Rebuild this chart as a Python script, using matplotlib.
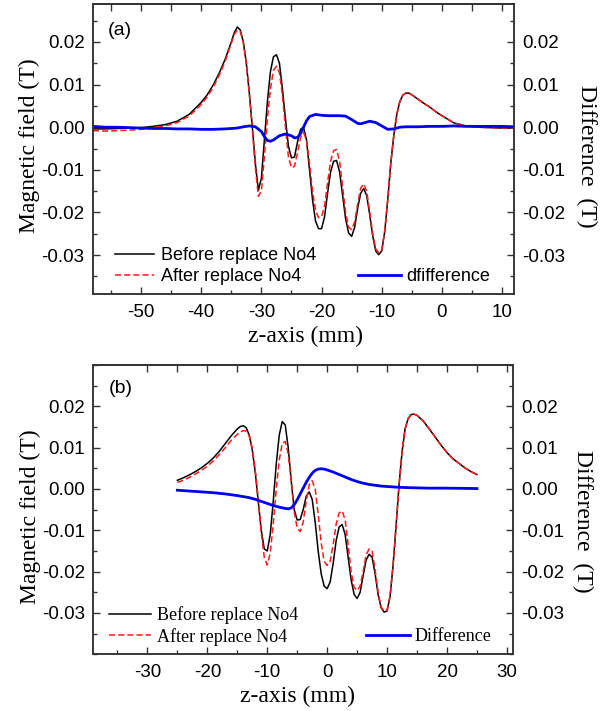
import matplotlib
matplotlib.use("Agg")
import matplotlib.pyplot as plt
from matplotlib.ticker import MultipleLocator, FixedLocator, FormatStrFormatter

plt.rcParams['axes.unicode_minus'] = False
plt.rcParams['font.family'] = ['Liberation Sans', 'DejaVu Sans']

# ---- panel (a) data ----
za = [-58, -56, -54, -52, -50, -48, -46, -44, -42, -40, -39, -38, -37, -36, -35.5, -35,
      -34.5, -34, -33.5, -33, -32.5, -32, -31.5, -31, -30.5, -30, -29.5, -29, -28.5, -28,
      -27.5, -27, -26.5, -26, -25.5, -25, -24.5, -24, -23.5, -23, -22.5, -22, -21.5, -21,
      -20.5, -20, -19.5, -19, -18.5, -18, -17.5, -17, -16.5, -16, -15.5, -15, -14.5, -14,
      -13.5, -13, -12.5, -12, -11.5, -11, -10.5, -10, -9.5, -9, -8.5, -8, -7.5, -7, -6.5,
      -6, -5.5, -5, -4, -3, -2, -1, 0, 2, 4, 6, 8, 10, 12]
before_a = [-0.0004, -0.0004, -0.0003, -0.0002, -0.0001, 0.0002, 0.0006, 0.0014, 0.0030, 0.0058,
            0.0076, 0.0099, 0.0127, 0.0160, 0.0180, 0.0200, 0.0222, 0.0235, 0.0228, 0.0200,
            0.0150, 0.0080, 0.0000, -0.0085, -0.0148, -0.0120, -0.0030, 0.0060, 0.0130, 0.0165,
            0.0170, 0.0150, 0.0090, 0.0020, -0.0045, -0.0072, -0.0070, -0.0035, -0.0005, 0.0000,
            -0.0030, -0.0100, -0.0170, -0.0220, -0.0238, -0.0238, -0.0210, -0.0155, -0.0105, -0.0080,
            -0.0078, -0.0105, -0.0160, -0.0215, -0.0248, -0.0256, -0.0235, -0.0190, -0.0155, -0.0144,
            -0.0160, -0.0205, -0.0255, -0.0290, -0.0299, -0.0290, -0.0245, -0.0170, -0.0085, -0.0020,
            0.0030, 0.0060, 0.0075, 0.0080, 0.0080, 0.0076, 0.0066, 0.0056, 0.0047, 0.0036,
            0.0027, 0.0010, 0.0003, 0.0000, -0.0001, -0.0002, -0.0002]
after_a = [-0.0008, -0.0009, -0.0008, -0.0007, -0.0005, -0.0002, 0.0003, 0.0011, 0.0026, 0.0053,
           0.0071, 0.0094, 0.0122, 0.0155, 0.0176, 0.0197, 0.0218, 0.0228, 0.0224, 0.0198,
           0.0150, 0.0078, -0.0005, -0.0095, -0.0162, -0.0150, -0.0070, 0.0020, 0.0090, 0.0133,
           0.0143, 0.0128, 0.0075, 0.0000, -0.0070, -0.0095, -0.0092, -0.0060, -0.0025, -0.0012,
           -0.0030, -0.0085, -0.0150, -0.0195, -0.0212, -0.0210, -0.0185, -0.0130, -0.0080, -0.0055,
           -0.0052, -0.0080, -0.0140, -0.0200, -0.0235, -0.0240, -0.0222, -0.0180, -0.0143, -0.0133,
           -0.0150, -0.0198, -0.0250, -0.0285, -0.0295, -0.0288, -0.0243, -0.0170, -0.0085, -0.0020,
           0.0030, 0.0060, 0.0075, 0.0080, 0.0080, 0.0076, 0.0066, 0.0056, 0.0047, 0.0036,
           0.0027, 0.0010, 0.0003, 0.0000, -0.0001, -0.0002, -0.0002]
zda = [-58, -56, -54, -52, -50, -48, -46, -44, -42, -40, -38, -36, -34, -33, -32, -31, -30,
       -29.5, -29, -28.5, -28, -27, -26, -25, -24.5, -24, -23.5, -23, -22.5, -22, -21, -20,
       -19, -18, -17, -16, -15, -14, -13.5, -13, -12, -11, -10, -9, -8, -7, -6, -4, -2, 0,
       2, 4, 6, 8, 10, 12]
diff_a = [0.0002, 0.0000, 0.0000, -0.0001, -0.0002, -0.0003, -0.0003, -0.0004, -0.0004, -0.0005,
          -0.0005, -0.0004, -0.0002, 0.0001, 0.0003, 0.0001, -0.0010, -0.0022, -0.0031, -0.0033,
          -0.0030, -0.0020, -0.0016, -0.0020, -0.0025, -0.0024, -0.0015, 0.0000, 0.0015, 0.0025,
          0.0030, 0.0028, 0.0027, 0.0027, 0.0027, 0.0026, 0.0018, 0.0009, 0.0008, 0.0010,
          0.0014, 0.0011, 0.0003, -0.0005, -0.0004, 0.0000, 0.0001, 0.0001, 0.0002, 0.0002,
          0.0003, 0.0002, 0.0002, 0.0002, 0.0002, 0.0001]

# ---- panel (b) data ----
zb = [-25, -24, -23, -22, -21, -20, -19, -18, -17, -16, -15, -14.5, -14, -13.5, -13, -12.5,
      -12, -11.5, -11, -10.5, -10, -9.5, -9, -8.5, -8, -7.5, -7, -6.5, -6, -5.5, -5, -4.5,
      -4, -3.5, -3, -2.5, -2, -1.5, -1, -0.5, 0, 0.5, 1, 1.5, 2, 2.5, 3, 3.5, 4, 4.5, 5,
      5.5, 6, 6.5, 7, 7.5, 8, 8.5, 9, 9.5, 10, 10.5, 11, 11.5, 12, 12.5, 13, 13.5, 14,
      14.5, 15, 16, 17, 18, 19, 20, 21, 22, 23, 24, 25]
before_b = [0.0021, 0.0027, 0.0034, 0.0042, 0.0051, 0.0062, 0.0075, 0.0091, 0.0110, 0.0129,
            0.0145, 0.0151, 0.0153, 0.0148, 0.0130, 0.0095, 0.0040, -0.0030, -0.0100, -0.0145,
            -0.0150, -0.0110, -0.0030, 0.0060, 0.0130, 0.0163, 0.0155, 0.0100, 0.0020, -0.0050,
            -0.0075, -0.0074, -0.0050, -0.0018, -0.0007, -0.0025, -0.0080, -0.0150, -0.0205, -0.0235,
            -0.0241, -0.0225, -0.0180, -0.0125, -0.0092, -0.0086, -0.0110, -0.0165, -0.0220, -0.0255,
            -0.0265, -0.0250, -0.0210, -0.0172, -0.0158, -0.0165, -0.0205, -0.0255, -0.0287, -0.0298,
            -0.0295, -0.0260, -0.0185, -0.0090, 0.0010, 0.0090, 0.0145, 0.0170, 0.0180, 0.0181,
            0.0178, 0.0165, 0.0146, 0.0126, 0.0106, 0.0088, 0.0073, 0.0062, 0.0051, 0.0042, 0.0035]
after_b = [0.0016, 0.0021, 0.0028, 0.0036, 0.0045, 0.0055, 0.0068, 0.0083, 0.0100, 0.0118,
           0.0132, 0.0138, 0.0141, 0.0140, 0.0128, 0.0098, 0.0045, -0.0025, -0.0105, -0.0165,
           -0.0184, -0.0155, -0.0085, 0.0000, 0.0070, 0.0110, 0.0115, 0.0085, 0.0020, -0.0055,
           -0.0095, -0.0103, -0.0080, -0.0030, 0.0010, 0.0020, 0.0000, -0.0060, -0.0130, -0.0175,
           -0.0185, -0.0175, -0.0135, -0.0085, -0.0058, -0.0053, -0.0075, -0.0135, -0.0200, -0.0238,
           -0.0246, -0.0235, -0.0200, -0.0160, -0.0145, -0.0150, -0.0195, -0.0250, -0.0285, -0.0296,
           -0.0293, -0.0258, -0.0183, -0.0090, 0.0010, 0.0090, 0.0145, 0.0170, 0.0180, 0.0181,
           0.0178, 0.0165, 0.0146, 0.0126, 0.0106, 0.0088, 0.0073, 0.0062, 0.0051, 0.0042, 0.0035]
zdb = [-25, -23, -21, -19, -17, -15, -13, -12, -11, -10, -9, -8, -7, -6.5, -6, -5.5, -5, -4.5,
       -4, -3.5, -3, -2.5, -2, -1.5, -1, -0.5, 0, 1, 2, 3, 4, 5, 6, 7, 8, 9, 10, 12, 14, 17,
       20, 25]
diff_b = [-0.0003, -0.0005, -0.0007, -0.0009, -0.0012, -0.0016, -0.0021, -0.0025, -0.0030, -0.0035,
          -0.0040, -0.0044, -0.0047, -0.0048, -0.0046, -0.0038, -0.0026, -0.0012, 0.0002, 0.0016,
          0.0028, 0.0038, 0.0045, 0.0048, 0.0049, 0.0048, 0.0046, 0.0041, 0.0035, 0.0029,
          0.0023, 0.0018, 0.0014, 0.0011, 0.0009, 0.0007, 0.0006, 0.0004, 0.0003, 0.0002,
          0.0002, 0.0001]

yticks = [-0.03, -0.02, -0.01, 0.0, 0.01, 0.02]
serif = ['Liberation Serif', 'DejaVu Serif']
fig = plt.figure(figsize=(6.07, 7.11), dpi=100)


def style(ax, ax2, xlim, ylim, top_ticks):
    for a in (ax, ax2):
        a.set_ylim(ylim)
        a.yaxis.set_major_locator(FixedLocator(yticks))
        a.yaxis.set_minor_locator(MultipleLocator(0.005))
        a.yaxis.set_major_formatter(FormatStrFormatter('%.2f'))
        for s in a.spines.values():
            s.set_linewidth(1.1)
            s.set_color('#333333')
    ax.set_xlim(xlim)
    ax.xaxis.set_major_locator(MultipleLocator(10))
    ax.xaxis.set_minor_locator(MultipleLocator(5))
    ax.tick_params(axis='both', which='both', direction='in', labelsize=13.5, color='#333333')
    ax.tick_params(which='major', length=5, width=1)
    ax.tick_params(which='minor', length=3, width=1)
    ax.tick_params(axis='x', pad=7)
    ax.tick_params(axis='y', pad=6)
    ax2.tick_params(axis='y', which='both', direction='in', labelsize=13.5, pad=6, color='#333333')
    ax2.tick_params(which='major', length=5, width=1)
    ax2.tick_params(which='minor', length=3, width=1)
    sec = ax.secondary_xaxis('top')
    sec.set_xticks(top_ticks)
    sec.tick_params(direction='in', length=5, width=1, labeltop=False, color='#333333')
    sec.spines['top'].set_linewidth(1.1)
    sec.spines['top'].set_color('#333333')


# panel (a)
ax = fig.add_axes([0.153, 0.586, 0.694, 0.409])
ax2 = ax.twinx()
ax.plot(za, before_a, color='black', lw=1.1, label='Before replace No4')
ax.plot(za, after_a, color='#ff1a1a', lw=1.1, ls=(0, (4, 2)), label='After replace No4')
ax2.plot(zda, diff_a, color='#0000ee', lw=2.0, label='dfifference')
style(ax, ax2, (-58, 12), (-0.0392, 0.0290), list(range(-55, 11, 5)))
ax.set_xlabel('z-axis (mm)', family=serif, fontsize=17)
ax.xaxis.set_label_coords(0.505, -0.11)
ax.set_ylabel('Magnetic field (T)', family=serif, fontsize=17)
ax.yaxis.set_label_coords(-0.126, 0.51)
ax2.set_ylabel('Difference  (T)', family=serif, fontsize=17, rotation=270, va='center')
ax2.yaxis.set_label_coords(1.172, 0.474)
ax.text(0.036, 0.909, '(a)', transform=ax.transAxes, fontsize=14, va='center')
ax.legend(loc='center left', bbox_to_anchor=(0.0526, 0.0977), frameon=False, fontsize=13,
          handlelength=2.17, handletextpad=0.37, labelspacing=0.22, borderpad=0, borderaxespad=0)
ax2.legend(loc='center left', bbox_to_anchor=(0.629, 0.0605), frameon=False, fontsize=13,
           handlelength=2.37, handletextpad=0.32, borderpad=0, borderaxespad=0)

# panel (b)
bx = fig.add_axes([0.154, 0.0797, 0.691, 0.407])
bx2 = bx.twinx()
bx.plot(zb, before_b, color='black', lw=1.1, label='Before replace No4')
bx.plot(zb, after_b, color='#ff1a1a', lw=1.1, ls=(0, (4, 2)), label='After replace No4')
bx2.plot(zdb, diff_b, color='#0000ee', lw=2.0, label='Difference')
style(bx, bx2, (-39, 31), (-0.040, 0.030), list(range(-30, 31, 5)))
bx.set_xlabel('z-axis (mm)', family=serif, fontsize=17)
bx.xaxis.set_label_coords(0.487, -0.11)
bx.set_ylabel('Magnetic field (T)', family=serif, fontsize=17)
bx.yaxis.set_label_coords(-0.124, 0.476)
bx2.set_ylabel('Difference  (T)', family=serif, fontsize=17, rotation=270, va='center')
bx2.yaxis.set_label_coords(1.166, 0.458)
bx.text(0.036, 0.92, '(b)', transform=bx.transAxes, fontsize=14, va='center')
bx.legend(loc='center left', bbox_to_anchor=(0.038, 0.0982), frameon=False,
          prop={'family': serif, 'size': 13},
          handlelength=2.3, handletextpad=0.33, labelspacing=0.22, borderpad=0, borderaxespad=0)
bx2.legend(loc='center left', bbox_to_anchor=(0.649, 0.0608), frameon=False,
           prop={'family': serif, 'size': 13},
           handlelength=2.45, handletextpad=0.28, borderpad=0, borderaxespad=0)

fig.savefig('out.png', dpi=100)
